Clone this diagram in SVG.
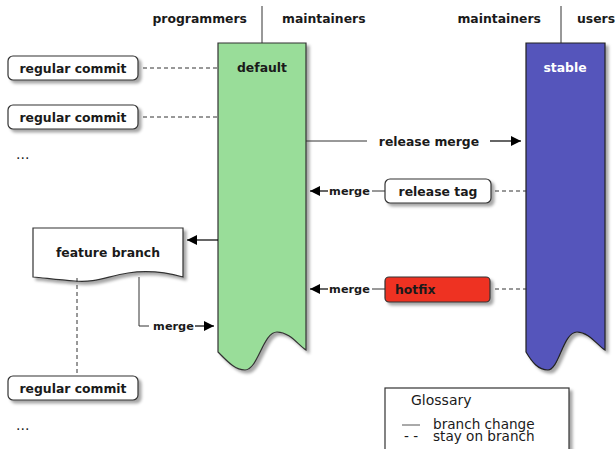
<svg xmlns="http://www.w3.org/2000/svg" width="616" height="449" viewBox="0 0 616 449">
<defs>
<filter id="sh" x="-20%" y="-20%" width="150%" height="150%">
<feDropShadow dx="3" dy="3" stdDeviation="1.8" flood-color="#000" flood-opacity="0.35"/>
</filter>
<marker id="ah" viewBox="0 0 10 10" refX="10" refY="5" markerWidth="10" markerHeight="10" markerUnits="userSpaceOnUse" orient="auto">
<path d="M0,0 L10,5 L0,10 Z" fill="#000"/>
</marker>
</defs>
<style>
text{font-family:"DejaVu Sans",sans-serif;fill:#1a1a1a}
.b{font-weight:bold;font-size:12.4px}
.m{font-weight:bold;font-size:11.3px}
.r{font-size:14px}
.g{font-size:13.6px}
.box{fill:#fff;stroke:#333;stroke-width:1.2}
.dash{stroke:#333;stroke-width:1;stroke-dasharray:4,3;fill:none}
.solid{stroke:#333;stroke-width:1;fill:none}
.arr{stroke:#000;stroke-width:1.2;fill:none}
</style>

<g id="headers">
<line x1="262" y1="6" x2="262" y2="43" class="solid"/>
<text x="247" y="23" class="b" text-anchor="end">programmers</text>
<text x="282" y="23" class="b">maintainers</text>
<line x1="561" y1="6" x2="561" y2="43" class="solid"/>
<text x="541" y="23" class="b" text-anchor="end">maintainers</text>
<text x="577" y="23" class="b">users</text>
</g>

<g id="default">
<path d="M218,43 H306 V350 C298,345 290,332 277,332 C263,332 258,370 245,370 C235,370 228,362 218,352 Z" fill="#99DD99" stroke="#333" stroke-width="1.2" filter="url(#sh)"/>
<text x="262" y="72" class="b" text-anchor="middle">default</text>
</g>

<g id="stable">
<path d="M526,43 H605 V350 C597,345 589,332 577,332 C563,332 559,370 548,370 C538,370 532,362 526,352 Z" fill="#5555BB" stroke="#222" stroke-width="1.2" filter="url(#sh)"/>
<text x="565" y="72" class="b" text-anchor="middle" style="fill:#fff">stable</text>
</g>

<g id="commit1">
<rect x="8" y="56" width="130" height="24" rx="5" class="box" filter="url(#sh)"/>
<text x="73" y="72.5" class="b" text-anchor="middle">regular commit</text>
</g>
<g id="commit2">
<rect x="8" y="105" width="130" height="24" rx="5" class="box" filter="url(#sh)"/>
<text x="73" y="121.5" class="b" text-anchor="middle">regular commit</text>
</g>
<g id="dots1"><text x="16" y="159" class="r">...</text></g>

<g id="feature">
<path d="M33,228 H183 V277 C165,272 148,270 128,273 C108,276 95,283 75,281 C58,280 45,278 33,277 Z" fill="#fff" stroke="#333" stroke-width="1.2" filter="url(#sh)"/>
<text x="108" y="256.5" class="b" text-anchor="middle">feature branch</text>
</g>

<g id="commit3">
<rect x="8" y="376" width="130" height="24" rx="5" class="box" filter="url(#sh)"/>
<text x="73" y="392.5" class="b" text-anchor="middle">regular commit</text>
</g>
<g id="dots2"><text x="16" y="430" class="r">...</text></g>

<g id="releasetag">
<rect x="385" y="179" width="106" height="24" rx="5" class="box" filter="url(#sh)"/>
<text x="438" y="195.5" class="b" text-anchor="middle">release tag</text>
</g>

<g id="hotfix">
<rect x="385" y="277" width="105" height="25" rx="4" fill="#EE3322" stroke="#333" stroke-width="1.2" filter="url(#sh)"/>
<text x="395" y="294" class="b">hotfix</text>
</g>

<g id="glossary">
<rect x="385" y="388" width="184" height="70" fill="#fff" stroke="#333" stroke-width="1.2" filter="url(#sh)"/>
<text x="411" y="405" class="r">Glossary</text>
<line x1="402" y1="425" x2="420" y2="425" stroke="#555" stroke-width="1"/>
<text x="433" y="428.5" class="g">branch change</text>
<text x="404" y="441" class="g">- -</text>
<text x="433" y="441" class="g">stay on branch</text>
</g>

<g id="connectors">
<line x1="143" y1="68" x2="218" y2="68" class="dash"/>
<line x1="143" y1="117" x2="218" y2="117" class="dash"/>
<line x1="306" y1="141" x2="367" y2="141" class="solid"/>
<text x="429" y="145.5" class="b" text-anchor="middle">release merge</text>
<line x1="490" y1="141" x2="521" y2="141" class="arr" marker-end="url(#ah)"/>
<line x1="495" y1="191" x2="526" y2="191" class="dash"/>
<line x1="385" y1="191" x2="372" y2="191" class="solid"/>
<text x="349.5" y="195" class="m" text-anchor="middle">merge</text>
<line x1="328" y1="191" x2="310" y2="191" class="arr" marker-end="url(#ah)"/>
<line x1="495" y1="289" x2="526" y2="289" class="dash"/>
<line x1="385" y1="289" x2="372" y2="289" class="solid"/>
<text x="349.5" y="293" class="m" text-anchor="middle">merge</text>
<line x1="328" y1="289" x2="310" y2="289" class="arr" marker-end="url(#ah)"/>
<line x1="218" y1="240" x2="187" y2="240" class="arr" marker-end="url(#ah)"/>
<line x1="77" y1="278" x2="77" y2="376" class="dash"/>
<polyline points="139,277 139,326 149,326" class="solid"/>
<text x="173.5" y="330" class="m" text-anchor="middle">merge</text>
<line x1="195" y1="326" x2="214" y2="326" class="arr" marker-end="url(#ah)"/>
</g>
</svg>
